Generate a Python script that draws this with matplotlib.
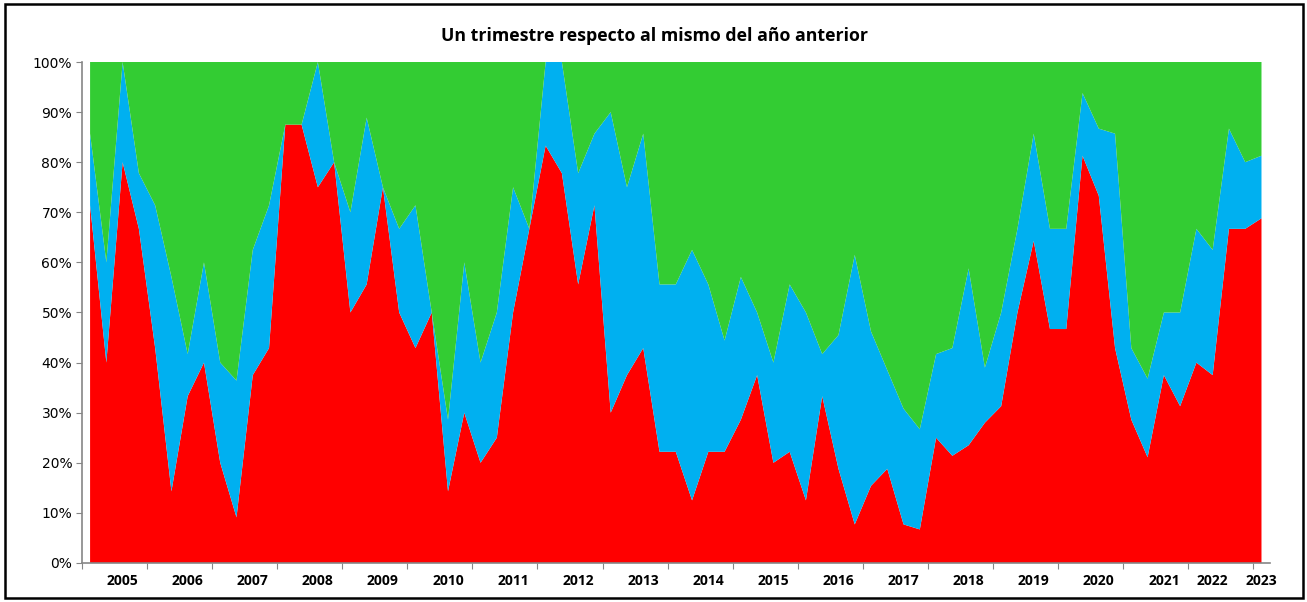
import matplotlib
matplotlib.use("Agg")
import matplotlib.pyplot as plt
from matplotlib.patches import Rectangle
import numpy as np

# quarterly shares (%)
red = [71.4, 40, 80, 66.7, 42.9, 14.3, 33.3, 40, 20, 9.1, 37.5, 42.9, 87.5, 87.5, 75, 80,
       50, 55.6, 75, 50, 42.9, 50, 14.3, 30, 20, 25, 50, 66.7, 83.3, 77.8, 55.6, 71.4,
       30, 37.5, 42.9, 22.2, 22.2, 12.5, 22.2, 22.2, 28.6, 37.5, 20, 22.2, 12.5, 33.3,
       18.8, 7.7, 15.4, 18.8, 7.7, 6.7, 25, 21.4, 23.5, 28, 31.3, 50, 64.3, 46.7, 46.7,
       81.3, 73.3, 42.9, 28.6, 21.1, 37.5, 31.3, 40, 37.5, 66.7, 66.7, 68.8]
cum_blue = [85.7, 60, 100, 77.8, 71.4, 57.1, 41.7, 60, 40, 36.4, 62.5, 71.4, 87.5, 87.5, 100, 80,
            70, 88.9, 75, 66.7, 71.4, 50, 28.6, 60, 40, 50, 75, 66.7, 100, 100, 77.8, 85.7,
            90, 75, 85.7, 55.6, 55.6, 62.5, 55.6, 44.4, 57.1, 50, 40, 55.6, 50, 41.7,
            45.5, 61.5, 46.2, 38.5, 30.8, 26.7, 41.7, 42.9, 58.8, 39, 50, 66.7, 85.7, 66.7, 66.7,
            93.8, 86.7, 85.7, 42.9, 36.8, 50, 50, 66.7, 62.5, 86.7, 80, 81.3]
blue = [c - r for c, r in zip(cum_blue, red)]
green = [100 - c for c in cum_blue]

years = ["2005", "2006", "2007", "2008", "2009", "2010", "2011", "2012", "2013", "2014",
         "2015", "2016", "2017", "2018", "2019", "2020", "2021", "2022", "2023"]
year_pos = [2, 6, 10, 14, 18, 22, 26, 30, 34, 38, 42, 46, 50, 54, 58, 62, 66, 69, 72]

x = np.arange(len(red))

fig = plt.figure(figsize=(13.07, 6.02), dpi=100)
ax = fig.add_axes([0.0627, 0.0648, 0.9087, 0.8322])

ax.stackplot(x, red, blue, green, colors=["#FF0000", "#00B0F0", "#33CC33"], linewidth=0)

ax.set_xlim(-0.5, len(red) - 0.5)
ax.set_ylim(0, 100)

ax.set_yticks(np.arange(0, 101, 10))
ax.set_yticklabels([f"{v}%" for v in range(0, 101, 10)], fontsize=10, fontfamily="Open Sans")
ax.tick_params(axis="y", direction="out", length=4, color="#868686", pad=3)

ax.set_xticks(np.arange(-0.5, len(red), 4))
ax.set_xticklabels([])
ax.tick_params(axis="x", which="major", direction="out", length=4, color="#868686")
ax.set_xticks(year_pos, minor=True)
ax.set_xticklabels(years, minor=True, fontsize=10, fontweight="bold", fontfamily="Open Sans")
ax.tick_params(axis="x", which="minor", length=0, pad=8)

for s in ["top", "right"]:
    ax.spines[s].set_visible(False)
for s in ["left", "bottom"]:
    ax.spines[s].set_color("#868686")
    ax.spines[s].set_linewidth(1.2)
ax.spines["left"].set_position(("data", -0.5))

fig.text(0.501, 0.94, "Un trimestre respecto al mismo del año anterior", ha="center", va="center",
         fontsize=12.8, fontweight="bold", fontfamily="Open Sans")

fig.patches.append(Rectangle((0.004, 0.007), 0.993, 0.986, transform=fig.transFigure,
                             fill=False, edgecolor="black", linewidth=1.8))

fig.savefig("out.png", dpi=100)
